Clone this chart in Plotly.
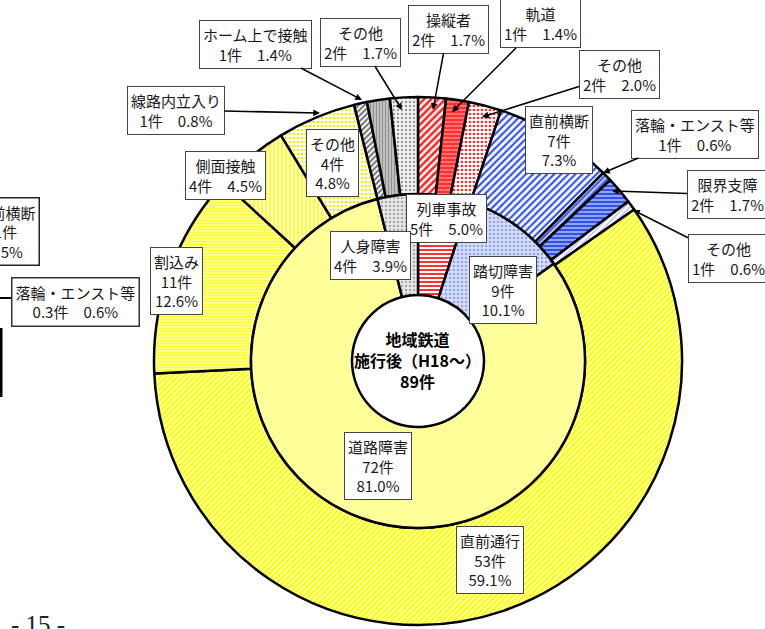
import plotly.graph_objects as go

W, H = 765, 629

# ---------------- data ----------------
inner_labels = ["列車事故", "踏切障害", "道路障害", "人身障害"]
inner_counts = [5, 9, 72, 4]
inner_pct = [5.0, 10.1, 81.0, 3.9]

outer_labels = ["操縦者", "軌道", "その他", "直前横断", "落輪・エンスト等", "限界支障", "その他",
                "直前通行", "割込み", "側面接触", "その他", "線路内立入り", "ホーム上で接触", "その他"]
outer_counts = [2, 1, 2, 7, 1, 2, 1, 53, 11, 4, 4, 1, 1, 2]
outer_pct = [1.7, 1.4, 2.0, 7.3, 0.6, 1.7, 0.6, 59.1, 12.6, 4.5, 4.8, 0.8, 1.4, 1.7]

center_title = ["地域鉄道", "施行後（H18～）"]
center_total = 89

# partial labels of the neighbouring (cut-off) chart
left_labels = ["直前横断", "落輪・エンスト等"]
left_counts = ["1", "0.3"]
left_pct = ["2.5", "0.6"]
page_label = "- 15 -"

# ---------------- geometry / style ----------------
CX, CY = 418, 361
R_OUT, R_MID, R_IN = 264, 167, 66
FONT = "Noto Sans CJK JP"


def dom(r):
    return dict(x=[(CX - r) / W, (CX + r) / W], y=[1 - (CY + r) / H, 1 - (CY - r) / H])


inner_style = [  # shape, fg, bg, size, solidity
    ("-", "#FF3030", "#FFFFFF", 4, 0.5),
    (".", "#8EA2EE", "#D6DEFA", 4, 0.3),
    ("", "#FFFF99", "#FFFF99", 4, 0.3),
    (".", "#A8A8A8", "#E8E8E8", 4, 0.3),
]
outer_style = [
    ("/", "#FF2020", "#FFFFFF", 5, 0.5),
    ("-", "#FF9A9A", "#FF3030", 4, 0.3),
    (".", "#FF3030", "#FFFFFF", 4, 0.35),
    ("/", "#3355F0", "#FFFFFF", 5, 0.45),
    ("/", "#3355F0", "#C8D2FA", 4, 0.5),
    ("-", "#3050E8", "#90A4F2", 4, 0.5),
    ("/", "#A8B8F0", "#FFFFFF", 4, 0.3),
    ("/", "#FFFF00", "#FFFFFF", 4, 0.65),
    ("-", "#FFFF30", "#FFFFB0", 3, 0.55),
    ("|", "#FFFF20", "#FFFFFF", 4, 0.55),
    (".", "#F0F000", "#FFFFFF", 4, 0.35),
    ("/", "#707070", "#FFFFFF", 4, 0.5),
    ("|", "#909090", "#D0D0D0", 3, 0.5),
    (".", "#999999", "#F4F4F4", 4, 0.3),
]


def pie_trace(values, labels, styles, r, hole):
    return go.Pie(
        values=values, labels=labels, sort=False, direction="clockwise", rotation=0,
        hole=hole, domain=dom(r), textinfo="none", hoverinfo="label+percent", showlegend=False,
        marker=dict(
            colors=[s[2] for s in styles],
            line=dict(color="black", width=2.5),
            pattern=dict(shape=[s[0] for s in styles], fgcolor=[s[1] for s in styles],
                         bgcolor=[s[2] for s in styles], size=[s[3] for s in styles],
                         solidity=[s[4] for s in styles], fillmode="replace"),
        ),
    )


fig = go.Figure()
fig.add_trace(pie_trace(outer_pct, [f"{l} {i}" for i, l in enumerate(outer_labels)], outer_style,
                        R_OUT, R_MID / R_OUT))
fig.add_trace(pie_trace(inner_pct, inner_labels, inner_style, R_MID, R_IN / R_MID))

SP = "\u3000"


def txt(label, count, pct, three):
    if three:
        return f"{label}<br>{count}件<br>{pct:.1f}%"
    return f"{label}<br>{count}件{SP}{pct:.1f}%"


annotations = []


def ann(text, cx, cy, tip=None, size=15, bold=False, box=True, **kw):
    d = dict(text=f"<b>{text}</b>" if bold else text, xref="paper", yref="paper",
             font=dict(family=FONT, size=size, color="#1a1a1a"), align="center",
             xanchor="center", yanchor="middle")
    if box:
        d.update(bgcolor="white", bordercolor="#444444", borderwidth=1, borderpad=3)
    if tip is None:
        d.update(x=cx / W, y=1 - cy / H, showarrow=False)
    else:
        d.update(x=tip[0] / W, y=1 - tip[1] / H, showarrow=True, axref="pixel", ayref="pixel",
                 ax=cx - tip[0], ay=cy - tip[1], arrowhead=2, arrowsize=0.9,
                 arrowwidth=1.5, arrowcolor="black", standoff=0)
    d.update(kw)
    annotations.append(d)


# outer labels: (box centre, arrow tip, three-line?)
outer_pos = [
    ((448, 29), (433, 110), False),
    ((540, 24), (452, 112), False),
    ((619, 74), (482, 117), False),
    ((559, 140), None, True),
    ((695, 134), (603, 173), False),
    ((727, 195), (612, 191), False),
    ((728, 258), (633, 210), False),
    ((490, 560), None, True),
    ((176, 281), None, True),
    ((225, 176), None, False),
    ((332, 163), None, True),
    ((176, 110), (320, 113), False),
    ((255, 44), (362, 100), False),
    ((360, 42), (402, 110), False),
]
for lab, cnt, pct, (c, tip, three) in zip(outer_labels, outer_counts, outer_pct, outer_pos):
    ann(txt(lab, cnt, pct, three), c[0], c[1], tip)

inner_pos = [((446, 218), False), ((503, 290), True), ((378, 466), True), ((370, 255), False)]
for lab, cnt, pct, (c, three) in zip(inner_labels, inner_counts, inner_pct, inner_pos):
    ann(txt(lab, cnt, pct, three), c[0], c[1])

# centre text
ann("<br>".join(center_title + [f"{center_total}件"]), CX, CY - 1, size=16, bold=True, box=False,
    font=dict(family=FONT, size=16, color="black"))

# cut-off labels of the neighbouring chart
annotations.append(dict(text=f"{left_labels[0]}<br>{left_counts[0]}件<br>{left_pct[0]}%",
                        xref="paper", yref="paper", x=40 / W, y=1 - 231 / H, xanchor="right",
                        yanchor="middle",
                        showarrow=False, font=dict(family=FONT, size=15, color="#1a1a1a"),
                        bgcolor="white", bordercolor="#222222", borderwidth=1.5, borderpad=3))
ann(f"{left_labels[1]}<br>{left_counts[1]}件{SP}{left_pct[1]}%", 75, 302,
    bordercolor="#333333", borderwidth=1.5)

annotations.append(dict(text=page_label, xref="paper", yref="paper", x=38 / W, y=1 - 609 / H,
                        xanchor="center", yanchor="top", showarrow=False,
                        font=dict(family="Liberation Serif", size=25, color="#222222")))

shapes = [
    dict(type="line", xref="paper", yref="paper", x0=0, x1=13 / W, y0=1 - 298 / H, y1=1 - 298 / H,
         line=dict(color="black", width=2)),
    dict(type="line", xref="paper", yref="paper", x0=1 / W, x1=1 / W, y0=1 - 328 / H, y1=1 - 397 / H,
         line=dict(color="black", width=3)),
]

fig.update_layout(
    width=W, height=H, margin=dict(l=0, r=0, t=0, b=0),
    paper_bgcolor="white", plot_bgcolor="white",
    annotations=annotations, shapes=shapes,
)

fig.write_html("out.html")
